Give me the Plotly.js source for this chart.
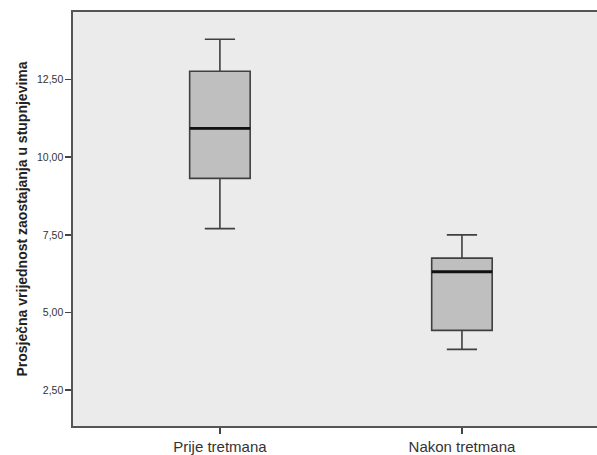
<!DOCTYPE html>
<html>
<head>
<meta charset="utf-8">
<script src="https://cdn.plot.ly/plotly-3.0.1.min.js"></script>
<style>html,body{margin:0;padding:0;background:#fff;}#chart{width:597px;height:455px;}</style>
</head>
<body>
<div id="chart"></div>
<script>
const categories = ["Prije tretmana", "Nakon tretmana"];
const lowerFence = [7.70, 3.81];
const q1Values = [9.32, 4.42];
const medianValues = [10.93, 6.31];
const q3Values = [12.77, 6.75];
const upperFence = [13.80, 7.50];
const yTickVals = [2.5, 5.0, 7.5, 10.0, 12.5];
const yTickText = ["2,50", "5,00", "7,50", "10,00", "12,50"];

const boxTrace = {
  type: "box",
  x: categories,
  q1: q1Values,
  median: medianValues,
  q3: q3Values,
  lowerfence: lowerFence,
  upperfence: upperFence,
  width: 0.25,
  whiskerwidth: 0.5,
  fillcolor: "#bfbfbf",
  line: {color: "#404040", width: 1.6},
  boxpoints: false,
  hoverinfo: "skip",
  showlegend: false
};
const medianTrace = {
  type: "box",
  x: categories,
  q1: medianValues,
  median: medianValues,
  q3: medianValues,
  lowerfence: medianValues,
  upperfence: medianValues,
  width: 0.25,
  whiskerwidth: 0,
  fillcolor: "rgba(0,0,0,0)",
  line: {color: "#111111", width: 2.8},
  boxpoints: false,
  hoverinfo: "skip",
  showlegend: false
};

const layout = {
  width: 597, height: 455,
  margin: {l: 73, r: 0, t: 12, b: 29, pad: 0},
  paper_bgcolor: "#ffffff",
  plot_bgcolor: "#ebebeb",
  boxmode: "overlay",
  separators: ",.",
  font: {family: "Liberation Sans, Arial, sans-serif", color: "#333333"},
  xaxis: {
    type: "category",
    range: [-0.607, 1.558],
    showgrid: false, zeroline: false,
    showline: true, linecolor: "#555555", linewidth: 1.6, mirror: true,
    ticks: "outside", ticklen: 6, tickwidth: 1.4, tickcolor: "#444444",
    tickfont: {size: 15, color: "#333333"}
  },
  yaxis: {
    range: [1.34, 14.68],
    tickvals: yTickVals, ticktext: yTickText,
    showgrid: false, zeroline: false,
    showline: true, linecolor: "#555555", linewidth: 1.6,
    ticks: "outside", ticklen: 6, tickwidth: 1.6, tickcolor: "#444444",
    tickfont: {size: 10.5, color: "#333333"},
    title: {text: "<b>Prosječna vrijednost zaostajanja u stupnjevima</b>", font: {size: 14, color: "#222222"}, standoff: 6}
  }
};

Plotly.newPlot("chart", [boxTrace, medianTrace], layout, {staticPlot: true});
</script>
</body>
</html>
